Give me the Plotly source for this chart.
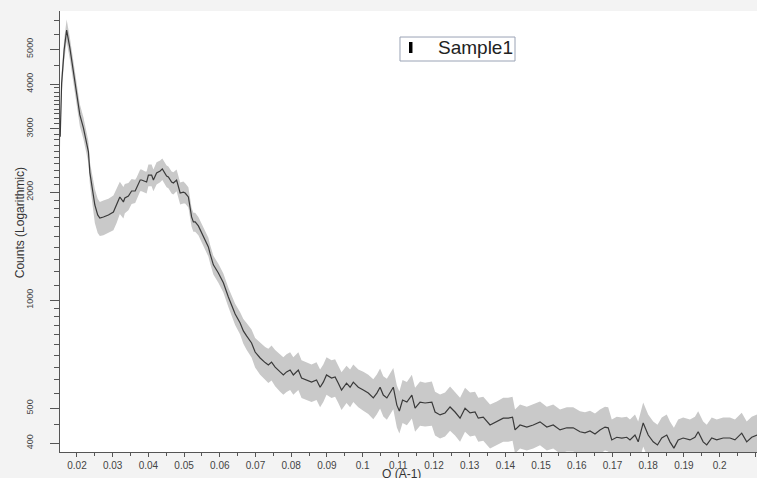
import plotly.graph_objects as go

# ---- data ----
q = [0.0153, 0.0157, 0.0164, 0.0171, 0.0180, 0.0190, 0.0199, 0.0208, 0.0218, 0.0224,
     0.0232, 0.0236, 0.0243, 0.0250, 0.0258, 0.0264, 0.0274, 0.0288, 0.0302, 0.0311,
     0.0320, 0.0330, 0.0334, 0.0344, 0.0353, 0.0363, 0.0367, 0.0377, 0.0381, 0.0391,
     0.0395, 0.0400, 0.0409, 0.0414, 0.0423, 0.0433, 0.0439, 0.0451, 0.0456, 0.0465,
     0.0470, 0.0479, 0.0484, 0.0489, 0.0498, 0.0503, 0.0512, 0.0521, 0.0526, 0.0531,
     0.0540, 0.0549, 0.0559, 0.0568, 0.0573, 0.0582, 0.0596, 0.0610, 0.0624, 0.0633,
     0.0643, 0.0657, 0.0666, 0.0675, 0.0689, 0.0699, 0.0713, 0.0727, 0.0736, 0.0745,
     0.0755, 0.0769, 0.0778, 0.0787, 0.0797, 0.0806, 0.0820, 0.0829, 0.0843, 0.0857,
     0.0871, 0.0881, 0.0890, 0.0899, 0.0913, 0.0923, 0.0932, 0.0941, 0.0955, 0.0965,
     0.0974, 0.0988, 0.1002, 0.1016, 0.1030, 0.1040, 0.1049, 0.1058, 0.1068, 0.1077,
     0.1086, 0.1096, 0.1103, 0.1112, 0.1124, 0.1138, 0.1147, 0.1161, 0.1175, 0.1194,
     0.1203, 0.1217, 0.1231, 0.1245, 0.1259, 0.1273, 0.1287, 0.1301, 0.1315, 0.1324,
     0.1338, 0.1357, 0.1376, 0.1394, 0.1408, 0.1420, 0.1427, 0.1441, 0.1460, 0.1478,
     0.1497, 0.1516, 0.1534, 0.1553, 0.1572, 0.1590, 0.1609, 0.1623, 0.1637, 0.1651,
     0.1665, 0.1679, 0.1688, 0.1698, 0.1712, 0.1726, 0.1740, 0.1749, 0.1763, 0.1772,
     0.1786, 0.1800, 0.1814, 0.1826, 0.1838, 0.1852, 0.1861, 0.1872, 0.1884, 0.1898,
     0.1917, 0.1931, 0.1940, 0.1954, 0.1964, 0.1978, 0.1992, 0.2010, 0.2029, 0.2043,
     0.2062, 0.2076, 0.2090, 0.2105]

counts = [2850, 4026, 4975, 5650, 5040, 4320, 3800, 3280, 3020, 2830,
          2590, 2270, 2050, 1841, 1727, 1693, 1705, 1727, 1760, 1841,
          1938, 1877, 1925, 1950, 2014, 2014, 2052, 2161, 2161, 2133,
          2133, 2231, 2231, 2161, 2260, 2290, 2320, 2217, 2203, 2133,
          2120, 2161, 2066, 1988, 2000, 1988, 1938, 1705, 1651, 1651,
          1610, 1538, 1471, 1407, 1345, 1254, 1190, 1118, 1020, 970,
          915, 864, 821, 795, 760, 717, 690, 670, 660, 672,
          651, 631, 619, 631, 639, 619, 639, 607, 599, 591,
          599, 572, 591, 619, 607, 611, 587, 562, 587, 572,
          591, 572, 562, 551, 534, 551, 572, 544, 534, 551,
          572, 510, 491, 527, 520, 544, 500, 520, 517, 520,
          488, 479, 485, 504, 488, 469, 500, 485, 488, 469,
          472, 449, 458, 469, 469, 472, 435, 449, 443, 449,
          458, 443, 449, 435, 441, 441, 430, 427, 432, 424,
          435, 443, 441, 408, 415, 413, 415, 408, 421, 403,
          455, 421, 403, 395, 413, 421, 403, 387, 408, 413,
          408, 415, 430, 403, 395, 413, 408, 413, 413, 408,
          426, 403, 415, 421]

err = [200, 280, 350, 400, 350, 300, 270, 230, 210, 200,
       180, 160, 185, 200, 190, 185, 190, 190, 195, 200,
       200, 190, 180, 170, 160, 150, 145, 150, 150, 150,
       150, 155, 155, 150, 160, 160, 160, 155, 155, 150,
       150, 150, 145, 140, 140, 130, 125, 105, 100, 100,
       95, 92, 88, 85, 80, 75, 72, 68, 63, 62,
       62, 62, 65, 68, 68, 68, 70, 70, 72, 75,
       75, 75, 74, 76, 77, 74, 77, 73, 72, 71,
       72, 69, 71, 74, 73, 73, 70, 68, 70, 69,
       71, 69, 70, 69, 68, 70, 73, 70, 70, 72,
       75, 68, 66, 72, 72, 76, 70, 73, 72, 73,
       68, 67, 68, 71, 68, 66, 70, 68, 68, 66,
       66, 63, 64, 66, 66, 66, 61, 63, 62, 63,
       64, 62, 63, 61, 62, 62, 60, 60, 60, 59,
       61, 62, 62, 57, 58, 58, 58, 57, 59, 56,
       64, 59, 56, 55, 58, 59, 56, 54, 57, 58,
       57, 58, 60, 56, 55, 58, 57, 58, 58, 57,
       60, 56, 58, 59]

series_name = "Sample1"
x_tickvals = [0.02, 0.03, 0.04, 0.05, 0.06, 0.07, 0.08, 0.09, 0.10, 0.11,
              0.12, 0.13, 0.14, 0.15, 0.16, 0.17, 0.18, 0.19, 0.20, 0.21]
x_ticktext = ["0.02", "0.03", "0.04", "0.05", "0.06", "0.07", "0.08", "0.09", "0.1", "0.11",
              "0.12", "0.13", "0.14", "0.15", "0.16", "0.17", "0.18", "0.19", "0.2", "0.21"]
x_minor = [0.015, 0.025, 0.035, 0.045, 0.055, 0.065, 0.075, 0.085, 0.095, 0.105,
           0.115, 0.125, 0.135, 0.145, 0.155, 0.165, 0.175, 0.185, 0.195, 0.205]
y_tickvals = [400, 500, 1000, 2000, 3000, 4000, 5000]
y_ticktext = ["400", "500", "1000", "2000", "3000", "4000", "5000"]
y_minor = [450, 550, 600, 650, 700, 750, 800, 850, 900, 950,
           1100, 1200, 1300, 1400, 1500, 1600, 1700, 1800, 1900,
           2100, 2200, 2300, 2400, 2500, 2600, 2700, 2800, 2900,
           3100, 3200, 3300, 3400, 3500, 3600, 3700, 3800, 3900,
           4500, 5500, 6000]

upper = [c + e for c, e in zip(counts, err)]
lower = [c - e for c, e in zip(counts, err)]

FONT = "Liberation Sans, Arial, sans-serif"
AX = "#555555"

fig = go.Figure()
fig.add_trace(go.Scatter(x=q, y=upper, mode="lines", line=dict(width=0, color="rgba(0,0,0,0)"),
                         showlegend=False, hoverinfo="skip"))
fig.add_trace(go.Scatter(x=q, y=lower, mode="lines", line=dict(width=0, color="rgba(0,0,0,0)"),
                         fill="tonexty", fillcolor="rgb(201,201,201)", showlegend=False, hoverinfo="skip"))
fig.add_trace(go.Scatter(x=q, y=counts, mode="lines", line=dict(width=1.2, color="#3a3a3a"),
                         showlegend=False, name=series_name))

fig.update_layout(
    width=757, height=478,
    margin=dict(l=60, r=0, t=11, b=26),
    paper_bgcolor="#f3f3f3", plot_bgcolor="white",
    font=dict(family=FONT, color="#333333"),
    showlegend=False,
    xaxis=dict(range=[0.01524, 0.21048], tickvals=x_tickvals, ticktext=x_ticktext,
               ticks="outside", ticklen=4, tickwidth=1, tickcolor=AX,
               showline=True, linecolor=AX, linewidth=1, showgrid=False, zeroline=False,
               tickfont=dict(size=10, color="#444444"),
               minor=dict(tickmode="array", tickvals=x_minor, ticks="outside", ticklen=3,
                          tickcolor=AX, showgrid=False)),
    yaxis=dict(type="log", range=[2.577, 3.8054], tickvals=y_tickvals, ticktext=y_ticktext,
               tickangle=-90, ticks="outside", ticklen=9, tickwidth=1, tickcolor=AX,
               showline=True, linecolor=AX, linewidth=1, showgrid=False, zeroline=False,
               tickfont=dict(size=9, color="#444444"), ticklabelstandoff=13,
               minor=dict(tickmode="array", tickvals=y_minor, ticks="outside", ticklen=5,
                          tickcolor=AX, showgrid=False)),
    annotations=[
        dict(text="Q (A-1)", xref="paper", yref="paper", x=0.49, y=-0.05,
             xanchor="center", yanchor="middle", showarrow=False,
             font=dict(size=12, color="#333333")),
        dict(text="Counts (Logarithmic)", xref="paper", yref="paper", x=-0.058, y=0.52,
             xanchor="center", yanchor="middle", textangle=-90, showarrow=False,
             font=dict(size=12, color="#333333")),
        # legend label
        dict(text=series_name, xref="paper", yref="paper", x=0.6527, y=0.9172,
             xanchor="right", yanchor="middle", showarrow=False,
             font=dict(size=19, color="#222222")),
    ],
    shapes=[
        # legend frame
        dict(type="rect", xref="paper", yref="paper", x0=0.4878, x1=0.6528, y0=0.8866, y1=0.9410,
             fillcolor="white", line=dict(width=1, color="#9aa3b5"), layer="above"),
        # legend swatch
        dict(type="rect", xref="paper", yref="paper", x0=0.5007, x1=0.5057, y0=0.9048, y1=0.9297,
             fillcolor="black", line=dict(width=0), layer="above"),
    ],
)

fig.write_html("out.html", config={"displayModeBar": False},
               post_script="document.body.style.margin='0px';")
